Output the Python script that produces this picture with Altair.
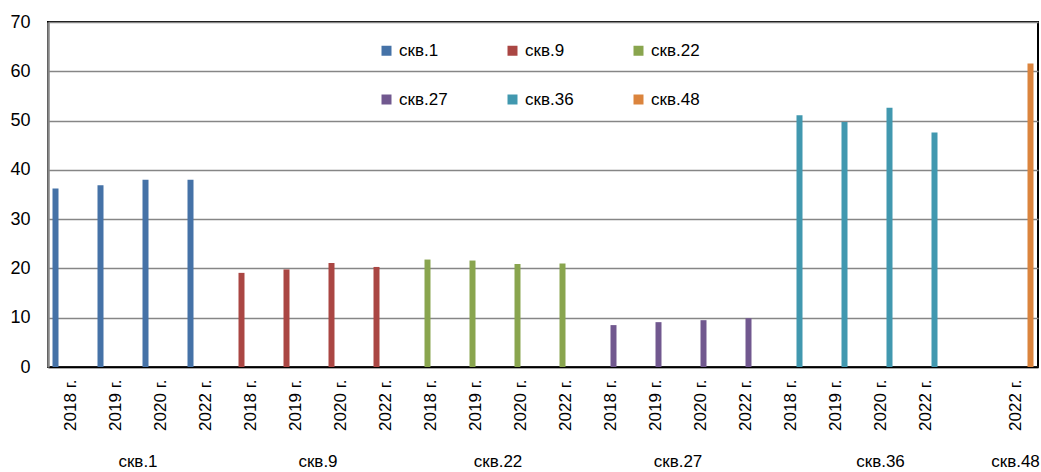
import altair as alt
import pandas as pd

# ---- data ----
wells = ["скв.1", "скв.9", "скв.22", "скв.27", "скв.36", "скв.48"]
colors = ["#4572A7", "#AA4643", "#89A54E", "#71588F", "#4198AF", "#DB843D"]

years_std = ["2018 г.", "2019 г.", "2020 г.", "2022 г."]
years_36 = ["2018 г.", "2019 г.", "2020 г.", "2022 г.", "-"]   # empty slot after скв.36
years_48 = ["2022 г."]

vals_1 = [36.2, 36.9, 38.0, 38.0]
vals_9 = [19.1, 19.8, 21.1, 20.3]
vals_22 = [21.8, 21.6, 20.9, 21.0]
vals_27 = [8.5, 9.1, 9.5, 9.9]
vals_36 = [51.1, 49.7, 52.6, 47.6]
vals_48 = [61.6]

# group label anchor: category + position on band
group_anchor = ["2019 г.", "2019 г.", "2019 г.", "2019 г.", "2020 г.", "2022 г."]
group_pos = ["end", "end", "end", "end", "mid", "mid"]

# ---- tables ----
year_lists = [years_std, years_std, years_std, years_std, years_36, years_48]
val_lists = [vals_1, vals_9, vals_22, vals_27, vals_36, vals_48]

cats = []
for w, ys in zip(wells, year_lists):
    for y in ys:
        cats.append(f"{w}|{y}")

rows = []
for w, ys, vs in zip(wells, year_lists, val_lists):
    for y, v in zip(ys, vs):
        rows.append({"key": f"{w}|{y}", "series": w, "value": v})
df = pd.DataFrame(rows)

gdf = pd.DataFrame({
    "key": [f"{w}|{a}" for w, a in zip(wells, group_anchor)],
    "label": wells,
    "pos": group_pos,
})

FONT = "Liberation Sans, Arial"
FS = 17
W, H = 990, 345

xscale = alt.Scale(domain=cats, paddingInner=0, paddingOuter=0)
xaxis = alt.Axis(title=None, labelAngle=-90, labelAlign="right", labelBaseline="middle",
                 labelPadding=12, ticks=False, domainColor="#000000", domainWidth=1.5,
                 labelExpr="indexof(datum.label, '-') >= 0 ? '' : split(datum.label, '|')[1]",
                 labelFont=FONT, labelFontSize=FS, labelColor="#000000", grid=False)

bars = alt.Chart(df).mark_bar().encode(
    x=alt.X("key:N", scale=xscale, sort=cats, axis=xaxis),
    xOffset=alt.XOffset("series:N", sort=wells,
                        scale=alt.Scale(domain=wells, paddingInner=0, paddingOuter=0.75)),
    y=alt.Y("value:Q", scale=alt.Scale(domain=[0, 70]),
            axis=alt.Axis(title=None, values=[0, 10, 20, 30, 40, 50, 60, 70], ticks=False,
                          labelPadding=18, labelFont=FONT, labelFontSize=FS + 1, labelColor="#000000",
                          domainColor="#868686", domainWidth=2.5, gridColor="#868686", gridWidth=1.5)),
    color=alt.Color("series:N", sort=wells,
                    scale=alt.Scale(domain=wells, range=colors),
                    legend=alt.Legend(title=None, orient="none", legendX=330, legendY=20,
                                      direction="horizontal", columns=3, gridAlign="all",
                                      columnPadding=56, rowPadding=31, padding=0,
                                      symbolType="square", symbolSize=100, symbolStrokeWidth=0,
                                      symbolOpacity=1, labelOffset=4,
                                      labelFont=FONT, labelFontSize=FS, labelColor="#000000")),
)

text_end = alt.Chart(gdf).transform_filter("datum.pos == 'end'").mark_text(
    font=FONT, fontSize=FS, color="#000000", align="center", baseline="alphabetic"
).encode(
    x=alt.X("key:N", scale=xscale, sort=cats, bandPosition=1, axis=xaxis),
    y=alt.value(H + 100),
    text="label:N",
)
text_mid = alt.Chart(gdf).transform_filter("datum.pos == 'mid'").mark_text(
    font=FONT, fontSize=FS, color="#000000", align="center", baseline="alphabetic"
).encode(
    x=alt.X("key:N", scale=xscale, sort=cats, bandPosition=0.5, axis=xaxis),
    y=alt.value(H + 100),
    text="label:N",
)

chart = alt.layer(bars, text_end, text_mid).properties(
    width=W, height=H,
    autosize=alt.AutoSizeParams(type="none"),
    padding={"left": 48, "top": 22, "right": 3, "bottom": 105},
    background="#ffffff",
).configure_view(stroke="#000000", strokeWidth=2)

chart.save("out.html", embed_options={"renderer": "svg", "actions": False})
